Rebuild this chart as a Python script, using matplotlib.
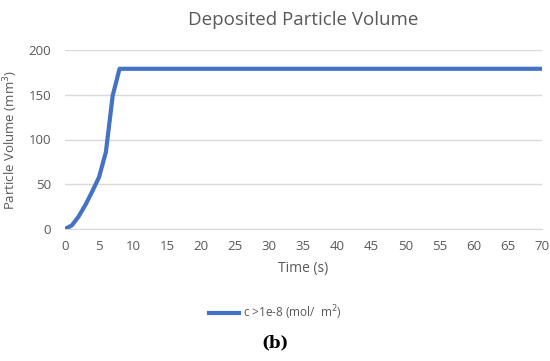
import matplotlib.pyplot as plt
import numpy as np

# data
time = list(range(0, 71))
volume_rise = [0, 4, 14, 27, 42, 58, 86, 149, 179]
volume = volume_rise + [179] * (len(time) - len(volume_rise))

x_ticks = list(range(0, 71, 5))
y_ticks = [0, 50, 100, 150, 200]

grey = '#595959'
plt.rcParams['font.family'] = ['Open Sans', 'DejaVu Sans']

fig = plt.figure(figsize=(5.5, 3.61), dpi=100)
ax = fig.add_axes([65/550, 1 - 229/361, (542-65)/550, (229-50)/361])

ax.plot(time, volume, color='#4472c4', lw=3, solid_joinstyle='round',
        label='c >1e-8 (mol/  m$^2$)', zorder=3)

ax.set_xlim(0, 70)
ax.set_ylim(0, 200)
ax.set_xticks(x_ticks)
ax.set_yticks(y_ticks)
ax.grid(axis='y', color='#d9d9d9', lw=1)
for s in ['top', 'right', 'left']:
    ax.spines[s].set_visible(False)
ax.spines['bottom'].set_color('#d9d9d9')
ax.tick_params(length=0, labelsize=9.5, labelcolor=grey, pad=8)
ax.tick_params(axis='y', pad=10)

ax.set_title('Deposited Particle Volume', fontsize=13.5, color=grey, pad=18)
ax.set_xlabel('Time (s)', fontsize=10, color=grey, labelpad=6)
ax.set_ylabel('Particle Volume (mm$^3$)', fontsize=9.5, color=grey, labelpad=6)

fig.legend(loc='center', bbox_to_anchor=(0.5, 1 - 313/361), frameon=False,
           fontsize=8.5, labelcolor=grey, handlelength=2.6, handletextpad=0.3)
fig.text(0.5, 1 - 343/361, '(b)', ha='center', va='center', fontsize=12,
         fontweight='bold', family='DejaVu Serif')

fig.savefig('out.png', dpi=100)
